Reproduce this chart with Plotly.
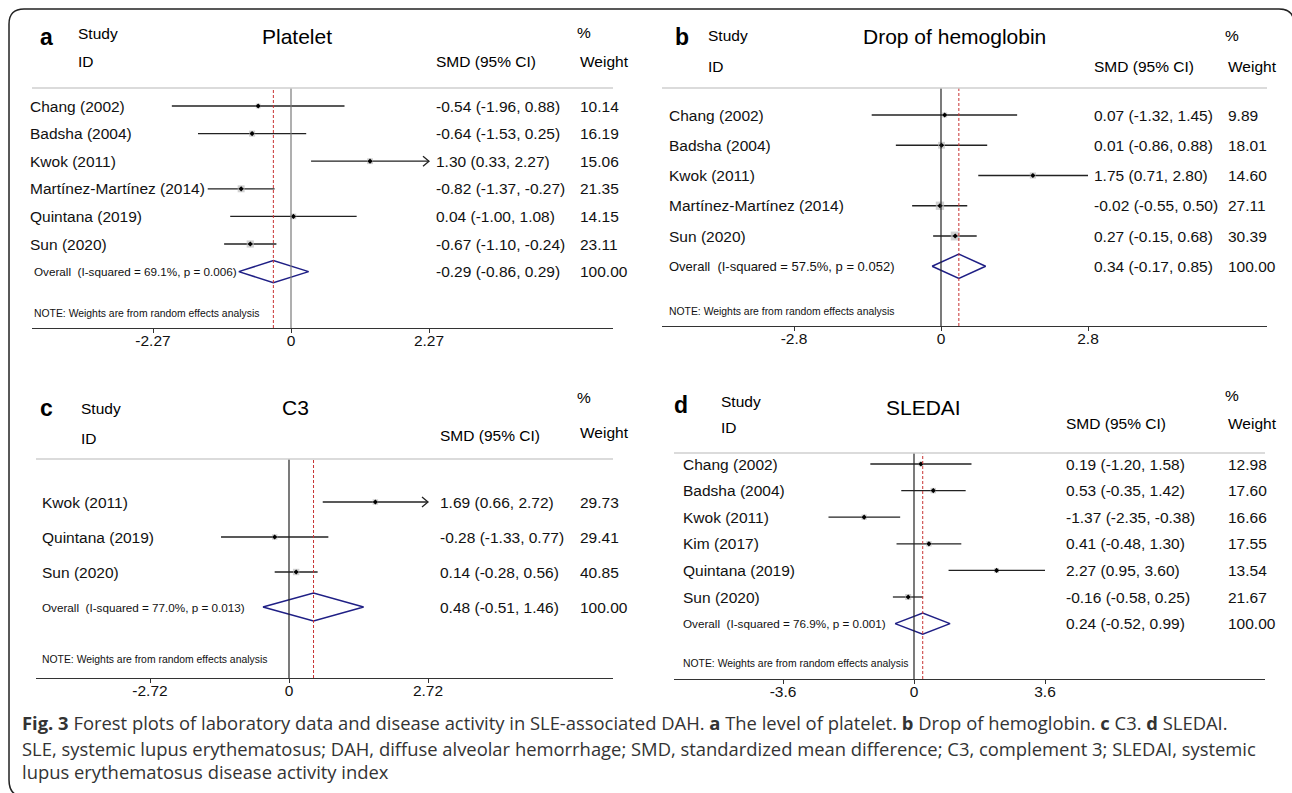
import plotly.graph_objects as go

W, H = 1292, 793

# ---------------- data ----------------
a_studies = ["Chang (2002)", "Badsha (2004)", "Kwok (2011)", "Martínez-Martínez (2014)", "Quintana (2019)", "Sun (2020)"]
a_smd = [-0.54, -0.64, 1.30, -0.82, 0.04, -0.67]
a_lo = [-1.96, -1.53, 0.33, -1.37, -1.00, -1.10]
a_hi = [0.88, 0.25, 2.27, -0.27, 1.08, -0.24]
a_weight = [10.14, 16.19, 15.06, 21.35, 14.15, 23.11]
a_arrow = [False, False, True, False, False, False]
a_overall = [-0.29, -0.86, 0.29]
a_overall_weight = 100.00
a_overall_label = "Overall  (I-squared = 69.1%, p = 0.006)"
a_ticks = [-2.27, 0, 2.27]
a_ticktext = ["-2.27", "0", "2.27"]

b_studies = ["Chang (2002)", "Badsha (2004)", "Kwok (2011)", "Martínez-Martínez (2014)", "Sun (2020)"]
b_smd = [0.07, 0.01, 1.75, -0.02, 0.27]
b_lo = [-1.32, -0.86, 0.71, -0.55, -0.15]
b_hi = [1.45, 0.88, 2.80, 0.50, 0.68]
b_weight = [9.89, 18.01, 14.60, 27.11, 30.39]
b_arrow = [False, False, False, False, False]
b_overall = [0.34, -0.17, 0.85]
b_overall_weight = 100.00
b_overall_label = "Overall  (I-squared = 57.5%, p = 0.052)"
b_ticks = [-2.8, 0, 2.8]
b_ticktext = ["-2.8", "0", "2.8"]

c_studies = ["Kwok (2011)", "Quintana (2019)", "Sun (2020)"]
c_smd = [1.69, -0.28, 0.14]
c_lo = [0.66, -1.33, -0.28]
c_hi = [2.72, 0.77, 0.56]
c_weight = [29.73, 29.41, 40.85]
c_arrow = [True, False, False]
c_overall = [0.48, -0.51, 1.46]
c_overall_weight = 100.00
c_overall_label = "Overall  (I-squared = 77.0%, p = 0.013)"
c_ticks = [-2.72, 0, 2.72]
c_ticktext = ["-2.72", "0", "2.72"]

d_studies = ["Chang (2002)", "Badsha (2004)", "Kwok (2011)", "Kim (2017)", "Quintana (2019)", "Sun (2020)"]
d_smd = [0.19, 0.53, -1.37, 0.41, 2.27, -0.16]
d_lo = [-1.20, -0.35, -2.35, -0.48, 0.95, -0.58]
d_hi = [1.58, 1.42, -0.38, 1.30, 3.60, 0.25]
d_weight = [12.98, 17.60, 16.66, 17.55, 13.54, 21.67]
d_arrow = [False, False, False, False, False, False]
d_overall = [0.24, -0.52, 0.99]
d_overall_weight = 100.00
d_overall_label = "Overall  (I-squared = 76.9%, p = 0.001)"
d_ticks = [-3.6, 0, 3.6]
d_ticktext = ["-3.6", "0", "3.6"]

panel_letters = ["a", "b", "c", "d"]
panel_titles = ["Platelet", "Drop of hemoglobin", "C3", "SLEDAI"]
note_text = "NOTE: Weights are from random effects analysis"

caption_lines = [
    "<b>Fig. 3</b> Forest plots of laboratory data and disease activity in SLE-associated DAH. <b>a</b> The level of platelet. <b>b</b> Drop of hemoglobin. <b>c</b> C3. <b>d</b> SLEDAI.",
    "SLE, systemic lupus erythematosus; DAH, diffuse alveolar hemorrhage; SMD, standardized mean difference; C3, complement 3; SLEDAI, systemic",
    "lupus erythematosus disease activity index",
]

# ---------------- layout geometry (pixels) ----------------
geo = [
    dict(L=32, R=613, zero=291, tickpx=429, T=88, B=328, R0=106, S=27.6,
         lab=28, ov=32, ci=434, wt=578, letter=(47, 37), study=(76, 34), title=(297, 37), pct=(584, 33),
         id=(76, 62), smd=(434, 62), weight=(578, 62), box=1.5, zcol="#7a7a7a", ovsize=11.7),
    dict(L=662, R=1267, zero=941, tickpx=1088, T=88, B=326, R0=115, S=30.25,
         lab=667, ov=667, ci=1092, wt=1226, letter=(682, 37), study=(706, 36), title=(954, 37), pct=(1232, 36),
         id=(706, 66), smd=(1092, 66), weight=(1226, 66), box=1.6, zcol="#222222", ovsize=13),
    dict(L=36, R=613, zero=289, tickpx=428, T=459, B=678, R0=502, S=35.0,
         lab=40, ov=40, ci=438, wt=578, letter=(47, 408), study=(79, 408), title=(295, 407), pct=(584, 397),
         id=(79, 438), smd=(438, 435), weight=(578, 432), box=1.0, zcol="#222222", ovsize=11.7),
    dict(L=674, R=1265, zero=914, tickpx=1045, T=453, B=679, R0=464, S=26.6,
         lab=681, ov=681, ci=1064, wt=1226, letter=(681, 405), study=(719, 401), title=(923, 407), pct=(1232, 395),
         id=(719, 427), smd=(1064, 423), weight=(1226, 423), box=1.3, zcol="#222222", ovsize=11.7),
]

panels = [
    (a_studies, a_smd, a_lo, a_hi, a_weight, a_arrow, a_overall, a_overall_weight, a_overall_label, a_ticks, a_ticktext),
    (b_studies, b_smd, b_lo, b_hi, b_weight, b_arrow, b_overall, b_overall_weight, b_overall_label, b_ticks, b_ticktext),
    (c_studies, c_smd, c_lo, c_hi, c_weight, c_arrow, c_overall, c_overall_weight, c_overall_label, c_ticks, c_ticktext),
    (d_studies, d_smd, d_lo, d_hi, d_weight, d_arrow, d_overall, d_overall_weight, d_overall_label, d_ticks, d_ticktext),
]

FONT = "Liberation Sans, Arial, Helvetica, sans-serif"
TXT = "#111111"


def px(x):
    return x / W


def py(y):
    return 1 - y / H


fig = go.Figure()
annotations = []
shapes = []


def add_text(x, y, text, size, yref="paper", anchor="left", bold=False, color="#000000", family=FONT):
    annotations.append(dict(x=x, y=y, xref="paper", yref=yref,
                            text=f"<b>{text}</b>" if bold else text,
                            xanchor=anchor, yanchor="middle", showarrow=False,
                            font=dict(family=family, size=size, color=color)))


for k, (studies, smd, lo, hi, wts, arrows, ov, ovw, ovlab, ticks, ticktext) in enumerate(panels):
    g = geo[k]
    sfx = "" if k == 0 else str(k + 1)
    xa, ya = "x" + sfx, "y" + sfx
    scale = (g["tickpx"] - g["zero"]) / ticks[2]
    xr = [(g["L"] - g["zero"]) / scale, (g["R"] - g["zero"]) / scale]
    yr = [(g["B"] - g["R0"]) / g["S"], (g["T"] - g["R0"]) / g["S"]]
    n = len(studies)
    rows = list(range(n))

    fig.layout["xaxis" + sfx] = dict(
        domain=[px(g["L"]), px(g["R"])], range=xr, anchor=ya,
        tickvals=ticks, ticktext=ticktext, showline=True, linecolor="#333333", linewidth=1.3,
        ticks="outside", ticklen=4, tickcolor="#333333", tickwidth=1, showgrid=False, zeroline=False,
        tickfont=dict(family=FONT, size=15.5, color=TXT), ticklabelstandoff=-6, fixedrange=True,
    )
    fig.layout["yaxis" + sfx] = dict(
        domain=[py(g["B"]), py(g["T"])], range=yr, anchor=xa, visible=False,
        showgrid=False, zeroline=False, fixedrange=True,
    )

    # CI lines (with truncation arrows where flagged)
    lx, ly = [], []
    for i in rows:
        lx += [lo[i], hi[i], None]
        ly += [i, i, None]
        if arrows[i]:
            dx = 6 / scale
            dy = 5 / g["S"]
            lx += [hi[i] - dx, hi[i], hi[i] - dx, None]
            ly += [i - dy, i, i + dy, None]
    fig.add_trace(go.Scatter(x=lx, y=ly, xaxis=xa, yaxis=ya, mode="lines",
                             line=dict(color="#222222", width=1.3), hoverinfo="skip", showlegend=False))
    # weight boxes
    fig.add_trace(go.Scatter(x=smd, y=rows, xaxis=xa, yaxis=ya, mode="markers",
                             marker=dict(symbol="square", size=[g["box"] * w ** 0.5 for w in wts],
                                         color="#bdbdbd", line=dict(width=0)),
                             hoverinfo="skip", showlegend=False))
    # point estimates
    fig.add_trace(go.Scatter(x=smd, y=rows, xaxis=xa, yaxis=ya, mode="markers",
                             marker=dict(symbol="diamond", size=4, color="#000000"),
                             hoverinfo="skip", showlegend=False))
    # overall diamond
    est, olo, ohi = ov
    h = 0.4
    fig.add_trace(go.Scatter(x=[olo, est, ohi, est, olo], y=[n, n - h, n, n + h, n],
                             xaxis=xa, yaxis=ya, mode="lines",
                             line=dict(color="#1f1f85", width=1.5), hoverinfo="skip", showlegend=False))

    # reference lines
    shapes.append(dict(type="line", xref=xa, yref=ya + " domain", x0=0, x1=0, y0=0, y1=1,
                       line=dict(color=g["zcol"], width=1.2)))
    shapes.append(dict(type="line", xref=xa, yref=ya + " domain", x0=est, x1=est, y0=0, y1=1,
                       line=dict(color="#c83232", width=1, dash="3px,2px")))
    shapes.append(dict(type="line", xref=xa + " domain", yref=ya + " domain", x0=0, x1=1, y0=1, y1=1,
                       line=dict(color="#cfcfcf", width=1.6)))

    # row text
    for i in rows:
        add_text(px(g["lab"]), i, studies[i], 15.5, yref=ya, color=TXT)
        add_text(px(g["ci"]), i, f"{smd[i]:.2f} ({lo[i]:.2f}, {hi[i]:.2f})", 15.5, yref=ya, color=TXT)
        add_text(px(g["wt"]), i, f"{wts[i]:.2f}", 15.5, yref=ya, color=TXT)
    add_text(px(g["ov"]), n, ovlab, g["ovsize"], yref=ya, color=TXT)
    add_text(px(g["ci"]), n, f"{est:.2f} ({olo:.2f}, {ohi:.2f})", 15.5, yref=ya, color=TXT)
    add_text(px(g["wt"]), n, f"{ovw:.2f}", 15.5, yref=ya, color=TXT)
    add_text(px(g["ov"]), n + 1.5, note_text, 10.4, yref=ya, color=TXT)

    # headers
    add_text(px(g["letter"][0]), py(g["letter"][1]), panel_letters[k], 23, anchor="center", bold=True)
    add_text(px(g["study"][0]), py(g["study"][1]), "Study", 15.5)
    add_text(px(g["id"][0]), py(g["id"][1]), "ID", 15.5)
    add_text(px(g["title"][0]), py(g["title"][1]), panel_titles[k], 21, anchor="center")
    add_text(px(g["pct"][0]), py(g["pct"][1]), "%", 15.5, anchor="center")
    add_text(px(g["smd"][0]), py(g["smd"][1]), "SMD (95% CI)", 15.5)
    add_text(px(g["weight"][0]), py(g["weight"][1]), "Weight", 15.5)

# caption
cap_y = [722, 748, 771]
for line, yy in zip(caption_lines, cap_y):
    add_text(px(20), py(yy), line, 18.4, color="#333333", family="Open Sans, sans-serif")


# outer rounded frame (partly cropped at the right and bottom)
def P(x, y):
    return f"{px(x):.5f},{py(y):.5f}"


frame = (f"M {P(9, 780)} L {P(9, 24)} Q {P(9, 9)} {P(24, 9)} "
         f"L {P(1279, 9)} Q {P(1294, 9)} {P(1294, 24)} L {P(1294, 800)}")
shapes.append(dict(type="path", xref="paper", yref="paper", path=frame,
                   line=dict(color="#222222", width=1.5)))
shapes.append(dict(type="path", xref="paper", yref="paper",
                   path=f"M {P(9, 780)} Q {P(9, 797)} {P(26, 797)}",
                   line=dict(color="#222222", width=1.5)))

fig.update_layout(
    width=W, height=H, autosize=False,
    margin=dict(l=0, r=0, t=0, b=0),
    paper_bgcolor="white", plot_bgcolor="rgba(0,0,0,0)",
    annotations=annotations, shapes=shapes, showlegend=False,
    font=dict(family=FONT, color=TXT),
)

fig.write_html("out.html", config={"displayModeBar": False},
               post_script="document.body.style.margin='0';document.body.style.padding='0';document.body.style.overflow='hidden';")
